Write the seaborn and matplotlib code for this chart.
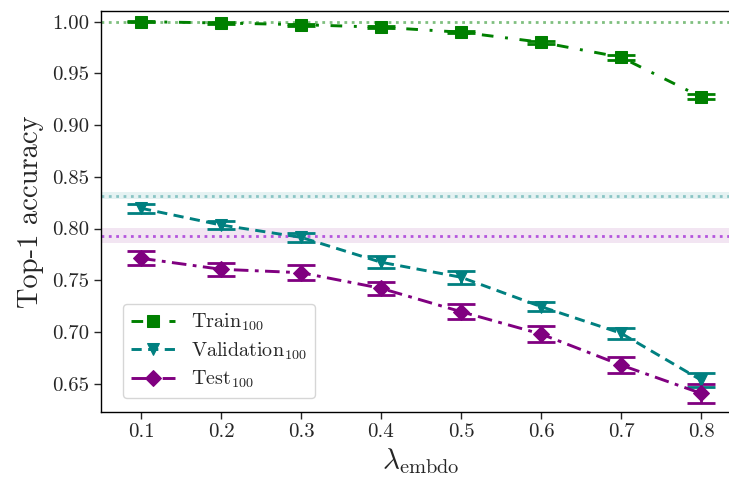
import matplotlib
matplotlib.use("Agg")
import matplotlib.pyplot as plt
import seaborn as sns
import pandas as pd
from matplotlib.ticker import FormatStrFormatter

# ---- data ----
lambdas = [0.1, 0.2, 0.3, 0.4, 0.5, 0.6, 0.7, 0.8]
train_acc = [1.000, 0.9987, 0.9971, 0.9946, 0.9898, 0.9801, 0.9656, 0.9272]
train_err = [0.0008, 0.0008, 0.0010, 0.0010, 0.0012, 0.0015, 0.0022, 0.0024]
val_acc = [0.8196, 0.8034, 0.7915, 0.7674, 0.7529, 0.7245, 0.6988, 0.6535]
val_err = [0.0045, 0.0037, 0.0044, 0.0060, 0.0065, 0.0047, 0.0053, 0.0064]
test_acc = [0.7712, 0.7606, 0.7573, 0.7422, 0.7196, 0.6980, 0.6680, 0.6407]
test_err = [0.0068, 0.0064, 0.0070, 0.0061, 0.0071, 0.0073, 0.0080, 0.0093]

ref_train = 1.000
ref_val, ref_val_err = 0.8318, 0.0032
ref_test, ref_test_err = 0.7931, 0.0073

series_labels = [r"Train$_{100}$", r"Validation$_{100}$", r"Test$_{100}$"]
xlabel = r"$\lambda_{\mathrm{embdo}}$"
ylabel = "Top-1 accuracy"

sns.set_style("ticks")
plt.rcParams["font.family"] = ["serif"]
plt.rcParams["font.serif"] = ["cmr10", "DejaVu Serif"]
plt.rcParams["mathtext.fontset"] = "cm"
plt.rcParams["axes.formatter.use_mathtext"] = True

fig = plt.figure(figsize=(7.29, 4.83), dpi=100)
ax = fig.add_axes([101 / 729, (483 - 411.7) / 483, 640 / 729, 400.7 / 483])

# reference lines / bands
ax.axhline(ref_train, color="green", alpha=0.5, ls=":", lw=2, zorder=1)
ax.axhspan(ref_val - ref_val_err, ref_val + ref_val_err, color="teal", alpha=0.1, lw=0, zorder=0)
ax.axhline(ref_val, color="teal", alpha=0.4, ls=":", lw=2, zorder=1)
ax.axhspan(ref_test - ref_test_err, ref_test + ref_test_err, color="purple", alpha=0.1, lw=0, zorder=0)
ax.axhline(ref_test, color="#b455dd", ls=":", lw=2, zorder=1)

specs = [
    (train_acc, train_err, "green", "s", (0, (4, 4, 1, 4)), series_labels[0]),
    (val_acc, val_err, "teal", "v", (0, (3.5, 2.2)), series_labels[1]),
    (test_acc, test_err, "purple", "D", (0, (5, 2.2, 1.3, 2.2)), series_labels[2]),
]
for acc, err, col, mk, ls, lab in specs:
    df = pd.DataFrame({"x": lambdas, "y": acc})
    sns.lineplot(data=df, x="x", y="y", ax=ax, color=col, marker=mk, markersize=8.5,
                 markeredgecolor=col, lw=2.1, label=lab, zorder=3)
    ax.lines[-1].set_linestyle(ls)
    ax.errorbar(lambdas, acc, yerr=err, fmt="none", ecolor=col, elinewidth=2,
                capsize=10, capthick=2, zorder=2)

ax.set_xlim(0.05, 0.85)
ax.set_ylim(0.6229, 1.0103)
ax.set_xticks(lambdas)
ax.set_yticks([0.65, 0.70, 0.75, 0.80, 0.85, 0.90, 0.95, 1.00])
ax.yaxis.set_major_formatter(FormatStrFormatter("%.2f"))
ax.xaxis.set_major_formatter(FormatStrFormatter("%.1f"))
ax.tick_params(labelsize=15, length=5, width=1)
ax.set_xlabel(xlabel, fontsize=21, labelpad=3)
ax.set_ylabel(ylabel, fontsize=20.5, labelpad=6)
for s in ax.spines.values():
    s.set_linewidth(1)
    s.set_color("black")

leg = ax.legend(loc="lower left", bbox_to_anchor=(0.034, 0.034), borderaxespad=0,
                fontsize=14.5, handlelength=2.2, labelspacing=0.35, frameon=True)
leg.get_frame().set_edgecolor("#cccccc")

fig.savefig("out.png", dpi=100)
